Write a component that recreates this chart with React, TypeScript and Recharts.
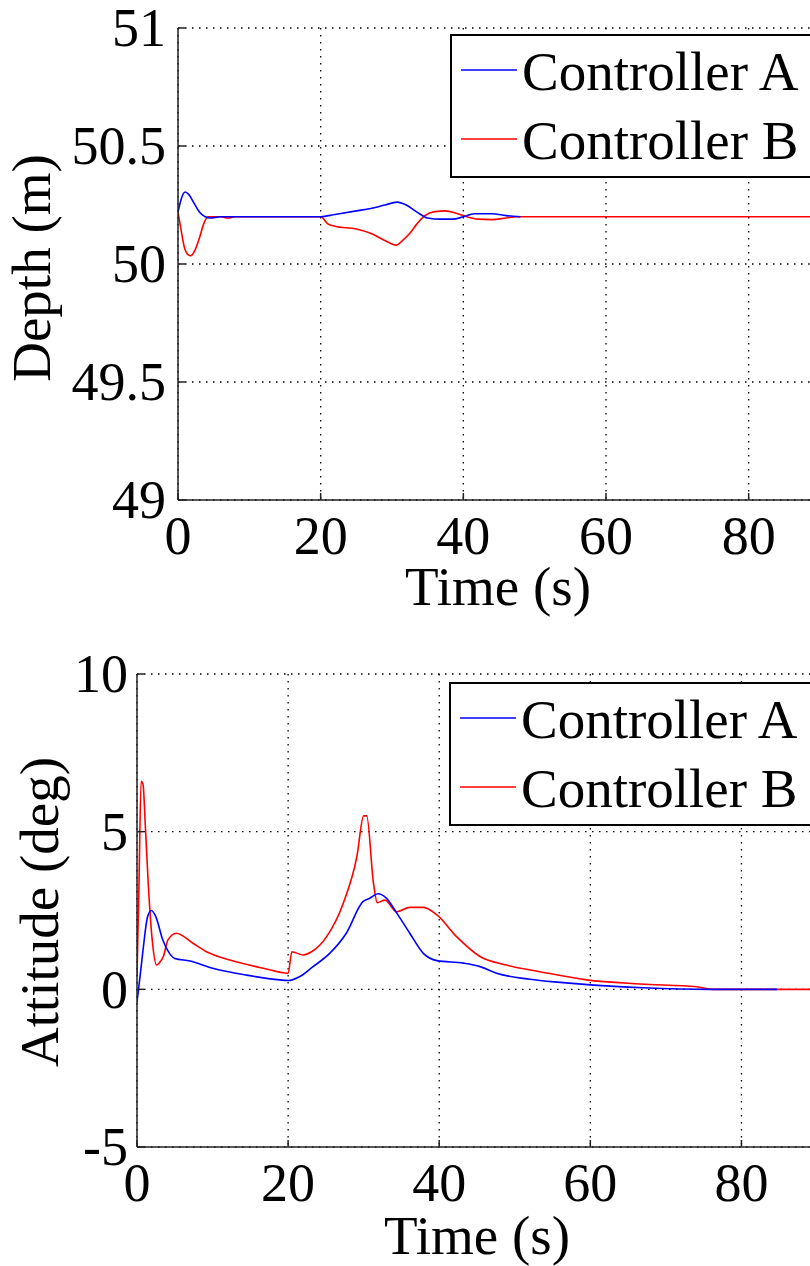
import React from "react";
import { LineChart, Line, XAxis, YAxis, CartesianGrid, Legend } from "recharts";

const FONT = "'Liberation Serif', 'Times New Roman', Times, 'DejaVu Serif', serif";
const textStyle = { fontFamily: FONT };

const timeTicks = [0, 20, 40, 60, 80];
const depthTicks = [49, 49.5, 50, 50.5, 51];
const attitudeTicks = [-5, 0, 5, 10];
const seriesNames = ["Controller A", "Controller B"];
const seriesColors = ["#0000ff", "#ff0000"];

// [time (s), depth (m)]
const depthA: [number, number][] = [
  [0, 50.22], [0.5, 50.28], [1, 50.305], [1.5, 50.295], [2.2, 50.26], [3, 50.22],
  [3.8, 50.2], [4.5, 50.195], [6, 50.2], [10, 50.2], [17, 50.2], [20, 50.2],
  [22, 50.21], [25, 50.225], [27, 50.235], [29, 50.25], [30.7, 50.262], [32, 50.25],
  [33.5, 50.22], [35, 50.195], [36.8, 50.19], [38.5, 50.19], [40, 50.2], [41.5, 50.213],
  [44, 50.213], [46, 50.205], [48, 50.2],
];
const depthB: [number, number][] = [
  [0, 50.22], [0.4, 50.15], [0.9, 50.07], [1.4, 50.04], [1.8, 50.035], [2.4, 50.06],
  [3, 50.11], [3.6, 50.17], [4.2, 50.2], [6, 50.2], [7, 50.195], [8, 50.2], [17, 50.2],
  [20, 50.2], [21, 50.17], [22, 50.16], [25, 50.148], [27, 50.13], [29, 50.1],
  [30.6, 50.08], [31.5, 50.1], [32.5, 50.13], [33.5, 50.17], [34.6, 50.205], [36, 50.222],
  [37.5, 50.225], [39, 50.215], [40.5, 50.2], [42, 50.19], [44, 50.188], [46, 50.195],
  [47.5, 50.2], [90, 50.2],
];

// [time (s), attitude (deg)]
const attitudeA: [number, number][] = [
  [0, -0.4], [0.4, 0.4], [0.8, 1.25], [1.4, 2.3], [1.9, 2.5], [2.5, 2.3], [3.4, 1.57],
  [4.3, 1.14], [5, 0.98], [7, 0.9], [10, 0.67], [14.5, 0.45], [18.9, 0.3], [20, 0.28],
  [21.5, 0.4], [23.3, 0.72], [25.5, 1.14], [27.7, 1.78], [29.9, 2.78], [30.8, 2.89],
  [31.9, 3.03], [33, 2.89], [34.4, 2.41], [36.1, 1.78], [37.9, 1.14], [39.7, 0.91],
  [43.2, 0.83], [45.4, 0.72], [47.6, 0.51], [52, 0.32], [56, 0.22], [60, 0.14],
  [67, 0.05], [76, 0], [84.7, 0],
];
const attitudeB: [number, number][] = [
  [0, 0.45], [0.25, 3.2], [0.55, 6.6], [0.8, 6.5], [1.1, 5.2], [1.5, 3.3], [2, 1.6],
  [2.6, 0.77], [3, 0.85], [3.5, 1.05], [4.1, 1.57], [5.2, 1.78], [7.4, 1.46], [9.2, 1.19],
  [12.3, 0.93], [16.7, 0.67], [20, 0.51], [20.5, 1.19], [22, 1.09], [23.1, 1.19],
  [25.1, 1.67], [27.3, 2.73], [29.1, 4.21], [30, 5.5], [30.4, 5.5], [31.3, 3.36],
  [31.8, 2.75], [32.8, 2.83], [34.4, 2.46], [36.1, 2.6], [37.9, 2.6], [39.7, 2.36],
  [42.3, 1.67], [45.4, 1.04], [48.9, 0.77], [53.3, 0.56], [59.5, 0.3], [66.6, 0.17],
  [74.1, 0.08], [76.2, 0], [90, 0],
];

const toRows = (pts: [number, number][]) => pts.map(([t, v]) => ({ t, v }));

function LegendBox() {
  return (
    <svg width={380} height={145} style={{ display: "block" }}>
      <rect x={1} y={1} width={378} height={142} fill="#fff" stroke="#000" strokeWidth={2} />
      {seriesNames.map((name, i) => (
        <g key={name}>
          <line x1={11} x2={67} y1={36 + i * 69} y2={36 + i * 69} stroke={seriesColors[i]} strokeWidth={1.6} />
          <text x={72} y={56 + i * 69} fontSize={55} style={textStyle} fill="#000">
            {name}
          </text>
        </g>
      ))}
    </svg>
  );
}

const xTick = (props: any) => (
  <text x={props.x} y={props.y + 54} textAnchor="middle" fontSize={54} style={textStyle} fill="#000">
    {props.payload.value}
  </text>
);

const yTick = (props: any) => (
  <text x={props.x} y={props.y} dy="0.34em" textAnchor="end" fontSize={54} style={textStyle} fill="#000">
    {props.payload.value}
  </text>
);

type PanelProps = {
  top: number;
  height: number;
  marginTop: number;
  axisWidth: number;
  xAxisHeight: number;
  right: number;
  domain: [number, number];
  yTicks: number[];
  tickGap: number;
  yLabel: string;
  yLabelX: number;
  yLabelY: number;
  xLabelX: number;
  xLabelY: number;
  legendTop: number;
  legendLeft: number;
  a: [number, number][];
  b: [number, number][];
};

function Panel(p: PanelProps) {
  const axisStroke = { stroke: "#222", strokeWidth: 1.5 };
  return (
    <div style={{ position: "absolute", left: 0, top: p.top }}>
      <LineChart width={880} height={p.height} margin={{ top: p.marginTop, right: p.right, bottom: 0, left: 0 }}>
        <CartesianGrid stroke="#000" strokeWidth={1.3} strokeDasharray="1.5 5.5" />
        <XAxis
          dataKey="t"
          type="number"
          domain={[0, 90]}
          ticks={timeTicks}
          allowDataOverflow
          height={p.xAxisHeight}
          axisLine={axisStroke}
          tickLine={axisStroke}
          tickSize={-7}
          tickMargin={7}
          tick={xTick}
          label={{
            content: () => (
              <text x={p.xLabelX} y={p.xLabelY} textAnchor="middle" fontSize={55} style={textStyle} fill="#000">
                Time (s)
              </text>
            ),
          }}
        />
        <XAxis
          xAxisId="top"
          orientation="top"
          type="number"
          domain={[0, 90]}
          ticks={timeTicks}
          height={0}
          axisLine={axisStroke}
          tickLine={axisStroke}
          tickSize={-7}
          tick={false}
        />
        <YAxis
          type="number"
          domain={p.domain}
          ticks={p.yTicks}
          allowDataOverflow
          width={p.axisWidth}
          axisLine={axisStroke}
          tickLine={axisStroke}
          tickSize={-7}
          tickMargin={7 + p.tickGap}
          tick={yTick}
          label={{
            content: () => (
              <text
                x={p.yLabelX}
                y={p.yLabelY}
                transform={`rotate(-90, ${p.yLabelX}, ${p.yLabelY})`}
                textAnchor="middle"
                fontSize={55}
                style={textStyle}
                fill="#000"
              >
                {p.yLabel}
              </text>
            ),
          }}
        />
        <Legend
          layout="vertical"
          align="center"
          verticalAlign="middle"
          content={<LegendBox />}
          wrapperStyle={{ left: p.legendLeft, top: p.legendTop, width: 380, height: 145 }}
        />
        <Line
          data={toRows(p.b)}
          dataKey="v"
          name={seriesNames[1]}
          type="monotone"
          stroke={seriesColors[1]}
          strokeWidth={1.6}
          dot={false}
          activeDot={false}
          isAnimationActive={false}
        />
        <Line
          data={toRows(p.a)}
          dataKey="v"
          name={seriesNames[0]}
          type="monotone"
          stroke={seriesColors[0]}
          strokeWidth={1.6}
          dot={false}
          activeDot={false}
          isAnimationActive={false}
        />
      </LineChart>
    </div>
  );
}

export default function App() {
  return (
    <div
      style={{
        position: "absolute",
        left: 0,
        top: 0,
        width: 810,
        height: 1266,
        overflow: "hidden",
        background: "#fff",
        fontFamily: FONT,
      }}
    >
      <Panel
        top={0}
        height={620}
        marginTop={28}
        axisWidth={178}
        xAxisHeight={120}
        right={60}
        domain={[49, 51]}
        yTicks={depthTicks}
        tickGap={12}
        yLabel="Depth (m)"
        yLabelX={50}
        yLabelY={268}
        xLabelX={498}
        xLabelY={605}
        legendLeft={450}
        legendTop={34}
        a={depthA}
        b={depthB}
      />
      <Panel
        top={620}
        height={646}
        marginTop={54}
        axisWidth={137}
        xAxisHeight={119}
        right={63}
        domain={[-5, 10]}
        yTicks={attitudeTicks}
        tickGap={9}
        yLabel="Attitude (deg)"
        yLabelX={58}
        yLabelY={292}
        xLabelX={477}
        xLabelY={634}
        legendLeft={449}
        legendTop={62}
        a={attitudeA}
        b={attitudeB}
      />
    </div>
  );
}
